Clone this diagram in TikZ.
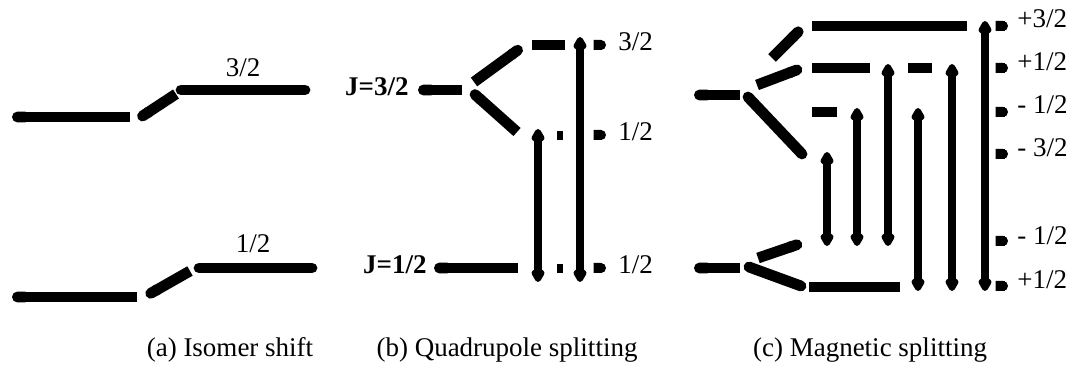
\documentclass[tikz,border=0pt]{standalone}
\usepackage{fontspec}
\setmainfont{Liberation Serif}
\usetikzlibrary{arrows.meta}
\begin{document}
\begin{tikzpicture}[x=0.5pt,y=-0.5pt,
  bar/.style={line width=5.4pt},
  kt/.tip={Kite[length=9pt,width=7.4pt,inset=2.6pt,round]},
  arr/.style={line width=3.8pt,{kt}-{kt}},
  tickmark/.style={line width=5pt,-{Round Cap[]}},
  lbl/.style={font=\fontsize{13.5}{15}\selectfont, anchor=base west, inner sep=0pt},
  jl/.style={font=\fontsize{13.5}{15}\selectfont\bfseries, anchor=base east, inner sep=0pt},
  ctxt/.style={font=\fontsize{13.5}{15}\selectfont, anchor=base, inner sep=0pt}]
\useasboundingbox (0,0) rectangle (1080,373);
% ---------- (a) isomer shift
\draw[bar,{Round Cap[]}-] (12,117) -- (130,117);
\draw[bar,{Round Cap[]}-] (138,119) -- (176,94);
\draw[bar,line cap=round] (181,90) -- (305,90);
\node[ctxt] (a32) at (243,77) {3/2};
\draw[bar,{Round Cap[]}-] (12,297) -- (137,297);
\draw[bar,{Round Cap[]}-] (146,296) -- (190,271);
\draw[bar,line cap=round] (199,268) -- (312,268);
\node[ctxt] (a12) at (253,253) {1/2};
% ---------- (b) quadrupole splitting
\node[jl] (bJ3) at (409,96) {J=3/2};
\draw[bar,{Round Cap[]}-] (418,90) -- (462,90);
\draw[bar,-{Round Cap[]}] (474,82) -- (522,47);
\draw[bar,{Round Cap[]}-] (471,91) -- (517,132);
\draw[bar] (532,45) -- (565,45);
\fill (557,131) rectangle (563,140);
\fill (557,264) rectangle (563,273);
\draw[arr] (580,37) -- (580,282);
\draw[arr] (538,129) -- (538,282);
\draw[tickmark] (602,45) -- (606,45);
\draw[tickmark] (602,135) -- (606,135);
\draw[tickmark] (602,268) -- (606,268);
\node[lbl] (b32) at (618,51) {3/2};
\node[lbl] (b12u) at (618,141) {1/2};
\node[lbl] (b12l) at (618,274) {1/2};
\node[jl] (bJ1) at (427,274) {J=1/2};
\draw[bar,{Round Cap[]}-] (434,268) -- (518,268);
% ---------- (c) magnetic splitting
\draw[bar,{Round Cap[]}-] (694,95) -- (740,95);
\draw[bar,-{Round Cap[]}] (772,58) -- (802,28);
\draw[bar,-{Round Cap[]}] (757,85) -- (802,68);
\draw[bar,line cap=round] (748,97) -- (802,154);
\draw[bar] (812,26) -- (967,26);
\draw[bar] (812,68) -- (870,68);
\draw[bar] (908,68) -- (932,68);
\draw[bar] (812,112) -- (837,112);
\draw[arr] (827,152) -- (827,246);
\draw[arr] (857,108) -- (857,246);
\draw[arr] (888,64) -- (888,246);
\draw[arr] (918,108) -- (918,291);
\draw[arr] (952,64) -- (952,291);
\draw[arr] (985,21) -- (985,291);
\draw[bar,{Round Cap[]}-] (694,268) -- (740,268);
\draw[bar,-{Round Cap[]}] (758,258) -- (802,243);
\draw[bar,line cap=round] (749,267) -- (801,286);
\draw[bar] (809,287) -- (900,287);
\draw[tickmark] (1005,26) -- (1008,26);
\draw[tickmark] (1005,68) -- (1008,68);
\draw[tickmark] (1005,112) -- (1008,112);
\draw[tickmark] (1005,154) -- (1008,154);
\draw[tickmark] (1005,241) -- (1008,241);
\draw[tickmark] (1005,286) -- (1008,286);
\node[lbl] (c1) at (1017,28) {+3/2};
\node[lbl] (c2) at (1017,71) {+1/2};
\node[lbl] (c3) at (1017,114) {- 1/2};
\node[lbl] (c4) at (1017,157) {- 3/2};
\node[lbl] (c5) at (1017,245) {- 1/2};
\node[lbl] (c6) at (1017,289) {+1/2};
% ---------- captions
\node[ctxt] (capa) at (230,357) {(a) Isomer shift};
\node[ctxt] (capb) at (507,357) {(b) Quadrupole splitting};
\node[ctxt] (capc) at (870,357) {(c) Magnetic splitting};
\end{tikzpicture}
\end{document}
